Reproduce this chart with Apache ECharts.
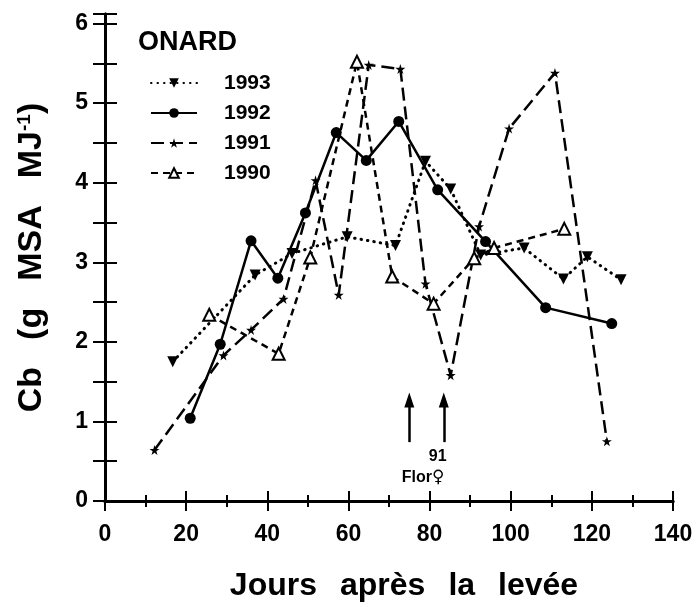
<!DOCTYPE html>
<html>
<head>
<meta charset="utf-8">
<script src="https://cdn.jsdelivr.net/npm/echarts@6/dist/echarts.min.js"></script>
<style>
  html, body { margin: 0; padding: 0; background: #fff; }
  #main { width: 697px; height: 607px; }
</style>
</head>
<body>
<div id="main"></div>
<script>
// jours après la levée / Cb
const days1993 = [16.7, 37, 46.1, 59.7, 71.6, 79, 85.2, 92.6, 103.3, 113, 118.9, 127.2];
const cb1993   = [1.75, 2.84, 3.11, 3.32, 3.21, 4.27, 3.92, 3.09, 3.18, 2.79, 3.07, 2.78];

const days1992 = [21, 28.4, 36, 42.6, 49.4, 57, 64.4, 72.4, 82, 93.8, 108.6, 124.9];
const cb1992   = [1.04, 1.97, 3.27, 2.8, 3.62, 4.63, 4.28, 4.77, 3.91, 3.26, 2.43, 2.23];

const days1991 = [12.2, 29.2, 36, 44, 51.9, 57.6, 65, 72.8, 79, 85.2, 92.2, 99.6, 110.9, 123.7];
const cb1991   = [0.64, 1.83, 2.15, 2.54, 4.03, 2.59, 5.48, 5.43, 2.73, 1.58, 3.45, 4.68, 5.38, 0.75];

const days1990 = [25.7, 42.8, 50.6, 62.1, 70.8, 81, 91, 95.9, 113.2];
const cb1990   = [2.34, 1.85, 3.06, 5.52, 2.82, 2.48, 3.05, 3.18, 3.42];

const years = ['1993', '1992', '1991', '1990'];
const xTicks = [0, 20, 40, 60, 80, 100, 120, 140];
const yTicks = [0, 1, 2, 3, 4, 5, 6];

// floraison (flèches)
const floraisonDays = [75, 83.5];
const arrowFrom = 0.74, arrowTo = 1.27;

const pairs = (xs, ys) => xs.map((x, i) => [x, ys[i]]);

const STAR = 'path://M50,0 L61,35 L98,35 L68,57 L79,91 L50,70 L21,91 L32,57 L2,35 L39,35 Z';
const FONT = 'Liberation Sans';

// mots espacés comme sur la figure
const spaced = (words, style) => words.map(w => '{' + style + '|' + w + '}').join('{gap| }');

let myChart = echarts.init(document.getElementById('main'));

const axisCommon = {
  min: xTicks[0],
  max: xTicks[xTicks.length - 1],
  interval: 20,
  axisLine: { show: true, lineStyle: { color: '#000', width: 3 } },
  axisTick: { show: true, inside: true, length: 10, lineStyle: { color: '#000', width: 2 } },
  minorTick: { show: true, splitNumber: 2, length: 6, lineStyle: { color: '#000', width: 2 } },
  splitLine: { show: false }
};

const yCommon = {
  min: 0,
  max: 6.12,
  interval: 0.5,
  axisLine: { show: true, lineStyle: { color: '#000', width: 3 } },
  axisTick: { show: true, inside: true, length: 12, lineStyle: { color: '#000', width: 2 } },
  splitLine: { show: false }
};

let option = {
  animation: false,
  backgroundColor: '#fff',
  title: {
    text: 'ONARD',
    left: 133,
    top: 24,
    textStyle: { fontFamily: FONT, fontSize: 27, fontWeight: 'bold', color: '#000' }
  },
  legend: {
    data: years,
    orient: 'vertical',
    left: 145,
    top: 67,
    itemWidth: 46,
    itemHeight: 12,
    itemGap: 8,
    textStyle: { fontFamily: FONT, fontSize: 21, fontWeight: 'bold', color: '#000', lineHeight: 22, padding: [0, 0, 0, 22] }
  },
  grid: { left: 105, right: 24, top: 14, bottom: 105 },
  xAxis: [
    Object.assign({}, axisCommon, {
      type: 'value',
      position: 'bottom',
      name: spaced(['Jours', 'après', 'la', 'levée'], 'w'),
      nameLocation: 'middle',
      nameGap: 69,
      nameTextStyle: {
        padding: [0, 0, 0, 30],
        rich: {
          w: { fontFamily: FONT, fontSize: 32, fontWeight: 'bold', color: '#000' },
          gap: { fontFamily: FONT, fontSize: 32, width: 23 }
        }
      },
      axisLabel: { margin: 22, fontFamily: FONT, fontSize: 23, fontWeight: 'bold', color: '#000' }
    }),
    Object.assign({}, axisCommon, {
      type: 'value',
      position: 'top',
      axisLabel: { show: false }
    })
  ],
  yAxis: [
    Object.assign({}, yCommon, {
      type: 'value',
      position: 'left',
      name: spaced(['Cb', '(g', 'MSA', 'MJ'], 'a') + '{s|-1}{a|)}',
      nameLocation: 'middle',
      nameGap: 56,
      nameTextStyle: {
        rich: {
          a: { fontFamily: FONT, fontSize: 34, fontWeight: 'bold', color: '#000' },
          gap: { fontFamily: FONT, fontSize: 34, width: 27 },
          s: { fontFamily: FONT, fontSize: 19, fontWeight: 'bold', color: '#000', padding: [0, 0, 15, 0] }
        }
      },
      minorTick: { show: false },
      axisLabel: {
        margin: 17, fontFamily: FONT, fontSize: 23, fontWeight: 'bold', color: '#000',
        formatter: v => (yTicks.indexOf(v) >= 0 ? String(v) : '')
      }
    }),
    Object.assign({}, yCommon, {
      type: 'value',
      position: 'right',
      axisLabel: { show: false }
    })
  ],
  series: [
    {
      name: '1993', type: 'line', data: pairs(days1993, cb1993),
      symbol: 'triangle', symbolRotate: 180, symbolSize: 11,
      lineStyle: { color: '#000', width: 3, type: [0.5, 6], cap: 'round' },
      itemStyle: { color: '#000' }
    },
    {
      name: '1992', type: 'line', data: pairs(days1992, cb1992),
      symbol: 'circle', symbolSize: 11,
      lineStyle: { color: '#000', width: 2.5, type: 'solid' },
      itemStyle: { color: '#000' },
      markLine: {
        silent: true,
        symbol: ['none', 'triangle'],
        symbolSize: [10, 15],
        lineStyle: { color: '#000', width: 2.5, type: 'solid' },
        label: { show: false },
        data: floraisonDays.map(d => [{ coord: [d, arrowFrom] }, { coord: [d, arrowTo] }])
      },
      markPoint: {
        silent: true,
        symbol: 'circle',
        symbolSize: 0,
        label: {
          show: true, position: 'inside', fontFamily: FONT, fontSize: 16, fontWeight: 'bold', color: '#000',
          rich: { f: { fontFamily: 'DejaVu Sans', fontSize: 17, fontWeight: 'bold', color: '#000' } }
        },
        data: [
          { coord: [82, 0.56], value: '91', label: { formatter: '91' } },
          { coord: [78.4, 0.29], value: 'Flor♀', label: { formatter: 'Flor{f|♀}' } }
        ]
      }
    },
    {
      name: '1991', type: 'line', data: pairs(days1991, cb1991),
      symbol: STAR, symbolSize: 10,
      lineStyle: { color: '#000', width: 2.5, type: [13, 6] },
      itemStyle: { color: '#000' }
    },
    {
      name: '1990', type: 'line', data: pairs(days1990, cb1990),
      symbol: 'triangle', symbolSize: 12,
      lineStyle: { color: '#000', width: 2.5, type: [7, 5] },
      itemStyle: { color: '#fff', borderColor: '#000', borderWidth: 2 }
    }
  ]
};

myChart.setOption(option);
</script>
</body>
</html>
